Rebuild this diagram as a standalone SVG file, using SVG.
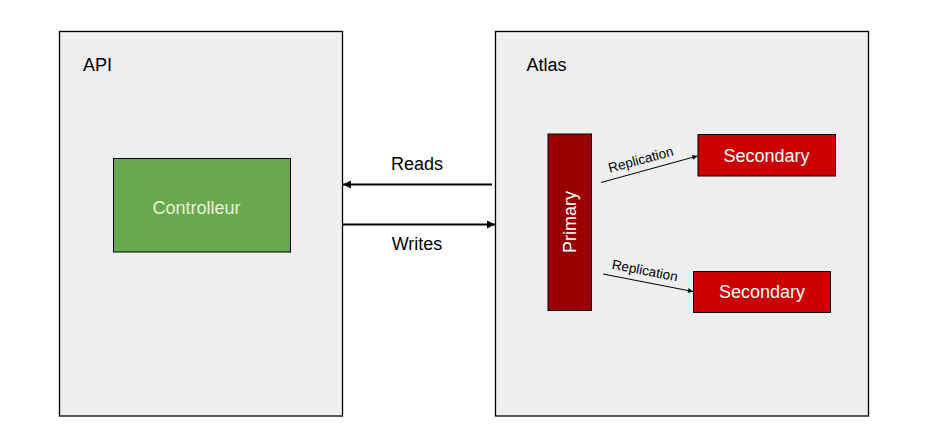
<svg xmlns="http://www.w3.org/2000/svg" width="928" height="448" viewBox="0 0 928 448">
<defs>
<style>
.t{font-family:Arial,"Liberation Sans",sans-serif;}
.group{fill:#efefef;stroke:#000;stroke-width:1.3;}
.lbl{font-size:18px;fill:#000;}
.conn{stroke:#000;stroke-width:2;fill:none;}
.rep{stroke:#000;stroke-width:1;fill:none;}
</style>
<marker id="ah" viewBox="0 0 10 10" refX="10" refY="5" markerWidth="5" markerHeight="4" orient="auto" markerUnits="strokeWidth"><path d="M0,0L10,5L0,10z" fill="#000"/></marker>
<marker id="ahs" viewBox="0 0 10 10" refX="10" refY="5" markerWidth="7" markerHeight="5" orient="auto" markerUnits="strokeWidth"><path d="M0,0L10,5L0,10z" fill="#000"/></marker>
</defs>
<rect width="928" height="448" fill="#fff"/>
<g id="api">
<rect class="group" x="59.5" y="31.5" width="283" height="384.5"/>
<text class="t lbl" x="83" y="70.5">API</text>
</g>
<g id="atlas">
<rect class="group" x="495.5" y="31.5" width="373" height="384.5"/>
<text class="t lbl" x="526.5" y="70.5">Atlas</text>
</g>
<g id="controlleur">
<rect x="113.5" y="158.5" width="177" height="93.5" fill="#6aa84f" stroke="#000" stroke-width="1"/>
<text class="t" x="196.5" y="214" font-size="18" fill="#e6f4d9" text-anchor="middle">Controlleur</text>
</g>
<g id="primary">
<rect x="548" y="134" width="43.5" height="176.5" fill="#990000" stroke="#000" stroke-width="1"/>
<text class="t" x="0" y="0" font-size="18" fill="#fff" text-anchor="middle" transform="translate(576,222) rotate(-90)">Primary</text>
</g>
<g id="secondary1">
<rect x="698" y="134.5" width="137.5" height="41.5" fill="#cc0000" stroke="#000" stroke-width="1"/>
<text class="t" x="766.5" y="161.5" font-size="18" fill="#fff" text-anchor="middle">Secondary</text>
</g>
<g id="secondary2">
<rect x="693.5" y="271.5" width="137" height="41" fill="#cc0000" stroke="#000" stroke-width="1"/>
<text class="t" x="762" y="298" font-size="18" fill="#fff" text-anchor="middle">Secondary</text>
</g>
<g id="connectors">
<line class="conn" x1="492" y1="184.5" x2="343" y2="184.5" marker-end="url(#ah)"/>
<text class="t lbl" x="417" y="170" text-anchor="middle">Reads</text>
<line class="conn" x1="343" y1="224.5" x2="495" y2="224.5" marker-end="url(#ah)"/>
<text class="t lbl" x="417" y="250" text-anchor="middle">Writes</text>
<line class="rep" x1="601" y1="182.5" x2="697.5" y2="156" marker-end="url(#ahs)"/>
<text class="t" font-size="13.5" fill="#000" text-anchor="middle" transform="translate(642,164) rotate(-15.3)">Replication</text>
<line class="rep" x1="603" y1="274" x2="693" y2="291.5" marker-end="url(#ahs)"/>
<text class="t" font-size="13.5" fill="#000" text-anchor="middle" transform="translate(644,275) rotate(11)">Replication</text>
</g>
</svg>
